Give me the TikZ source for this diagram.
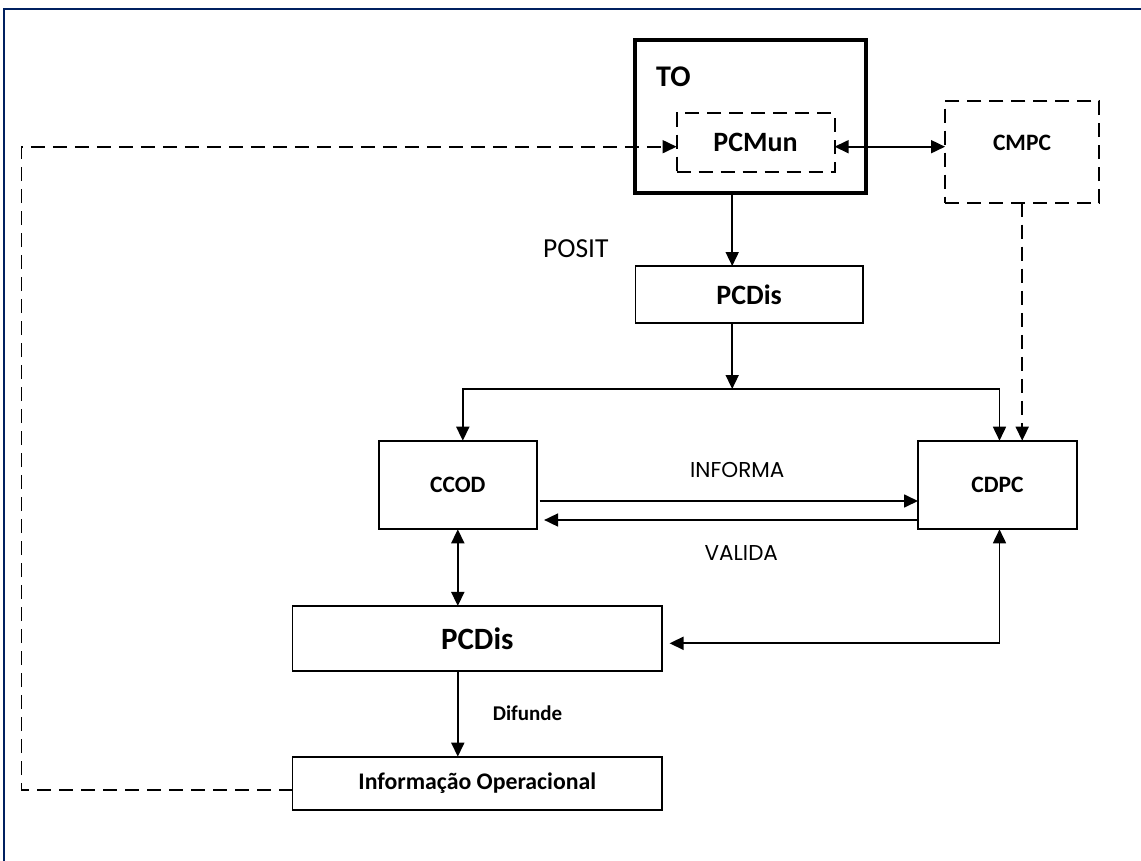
\documentclass[tikz,border=0pt]{standalone}
\usepackage{fontspec}
\setmainfont{Carlito}
\newfontfamily\gothic{Poppins}
\usetikzlibrary{arrows.meta}
\definecolor{frameblue}{HTML}{002060}
\newcommand{\fs}[1]{\fontsize{#1}{#1}\selectfont}
\begin{document}
\begin{tikzpicture}[x=1pt,y=-1pt,
  box/.style={draw, line width=1.8pt, rectangle, inner sep=0pt, outer sep=0pt, font=\bfseries},
  dbox/.style={box, dash pattern=on 14pt off 8pt},
  arr/.style={line width=1.7pt, -{Triangle[length=14pt,width=13pt]}},
  arrtwo/.style={line width=1.7pt, {Triangle[length=14pt,width=13pt]}-{Triangle[length=14pt,width=13pt]}},
  darr/.style={arr, dash pattern=on 14pt off 8pt},
  lbl/.style={inner sep=0pt}
]
\useasboundingbox (0,0) rectangle (1141,861);
\fill[white] (0,0) rectangle (1141,861);
\draw[frameblue, line width=2.2pt] (4.3,861) -- (4.3,9) -- (1141,9);

% nodes
\node[box, line width=4pt, minimum width=231pt, minimum height=153pt] (TO) at (750,116.7) {};
\node[lbl, font=\bfseries\fs{30}, anchor=west] (TOt) at (656,76.5) {TO};
\node[dbox, minimum width=158pt, minimum height=58.5pt, font=\bfseries\fs{28}] (PCMun) at (755.6,142.5) {PCMun};
\node[dbox, minimum width=154.3pt, minimum height=101.7pt] (CMPC) at (1022.2,151.9) {};
\node[lbl, font=\bfseries\fs{23.5}] (CMPCt) at (1022,142.5) {CMPC};
\node[lbl, font=\fs{27.5}] (posit) at (575.8,248.3) {POSIT};
\node[box, minimum width=227.4pt, minimum height=57.3pt, font=\bfseries\fs{28}] (PCDisA) at (749.2,294.7) {PCDis};
\node[box, minimum width=157.6pt, minimum height=88.6pt, font=\bfseries\fs{23.5}] (CCOD) at (457.8,485) {CCOD};
\node[box, minimum width=159pt, minimum height=88.6pt, font=\bfseries\fs{23.5}] (CDPC) at (997.5,485) {CDPC};
\node[lbl, font=\gothic\fs{21.5}] (inf) at (737.3,470) {INFORMA};
\node[lbl, font=\gothic\fs{21.5}] (val) at (741.3,553) {VALIDA};
\node[box, minimum width=369.5pt, minimum height=64.7pt, font=\bfseries\fs{31}] (PCDisB) at (477.3,638.3) {PCDis};
\node[lbl, font=\bfseries\fs{21}] (dif) at (527.5,713.5) {Difunde};
\node[box, minimum width=369.5pt, minimum height=53.3pt, font=\bfseries\fs{23.8}] (Info) at (477.3,783.3) {Informação Operacional};

% coordinates
\coordinate (a1) at ([xshift=-17pt]PCDisA.north);
\coordinate (br) at (732.2,389);
\coordinate (lt) at (21.4,146.7);

% connectors
\draw[arrtwo] (PCMun.east |- lt) -- (CMPC.west |- lt);
\draw[arr] (TO.south -| a1) -- (a1);
\draw[arr] (PCDisA.south -| br) -- (br);
\draw[arr] (br) -| ([xshift=5pt]CCOD.north);
\draw[arr] (br) -| ([xshift=2pt]CDPC.north);
\draw[darr] (CMPC.south) -- (CMPC.south |- CDPC.north);
\draw[arr] ([shift={(3pt,-16pt)}]CCOD.east) -- ([yshift=-16pt]CDPC.west);
\draw[arr] ([yshift=-35pt]CDPC.west) -- ([shift={(7.5pt,-35pt)}]CCOD.east);
\draw[arrtwo] (CCOD.south) -- (CCOD.south |- PCDisB.north);
\draw[arrtwo] ([xshift=2pt]CDPC.south) |- ([shift={(7.5pt,-5pt)}]PCDisB.east);
\draw[arr] (CCOD.south |- PCDisB.south) -- (CCOD.south |- Info.north);
\draw[darr] ([yshift=-6.7pt]Info.west) -| (lt) -- (PCMun.west |- lt);
\end{tikzpicture}
\end{document}
